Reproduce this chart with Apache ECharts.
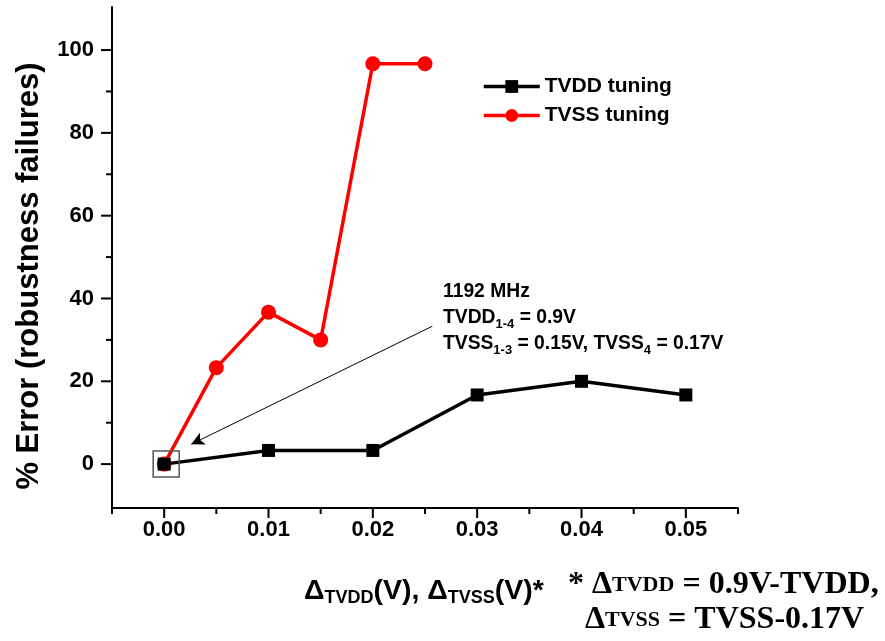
<!DOCTYPE html>
<html>
<head>
<meta charset="utf-8">
<script src="https://cdn.jsdelivr.net/npm/echarts@6/dist/echarts.min.js"></script>
<style>html,body{margin:0;padding:0;background:#fff;}#c{width:885px;height:641px;}</style>
</head>
<body>
<div id="c"></div>
<script>
// ---- data ----
const xTVDD = [0, 0.01, 0.02, 0.03, 0.04, 0.05];
const yTVDD = [0, 3.3, 3.3, 16.7, 20, 16.7];
const xTVSS = [0, 0.005, 0.01, 0.015, 0.02, 0.025];
const yTVSS = [0, 23.3, 36.7, 30, 96.7, 96.7];
const xTicks = [0, 0.01, 0.02, 0.03, 0.04, 0.05];
const xMinorTicks = [-0.005, 0.005, 0.015, 0.025, 0.035, 0.045, 0.055];
const yTicks = [0, 20, 40, 60, 80, 100];
const yMinorTicks = [10, 30, 50, 70, 90];
const seriesNames = ['TVDD tuning', 'TVSS tuning'];
const arrowFrom = [0.0257, 33.3];
const arrowTo = [0.0026, 4.8];

const chart = echarts.init(document.getElementById('c'), null, {renderer: 'canvas'});
const SANS = 'Arial, "Liberation Sans", Helvetica, sans-serif';
const SERIF = '"Times New Roman", "Liberation Serif", serif';

const xMin = -0.005, xMax = 0.055, yMin = -10.6, yMax = 110.4;
const MAJOR = 10, MINOR = 6;

// tick marks drawn through the axes' scales (api.coord)
const xTickData = xTicks.map(v => [v, yMin, MAJOR]).concat(xMinorTicks.map(v => [v, yMin, MINOR]));
const yTickData = yTicks.map(v => [xMin, v, MAJOR + 1]).concat(yMinorTicks.map(v => [xMin, v, MINOR]));

function tickSeries(data, dir) {
  return {
    type: 'custom', silent: true, clip: false, z: 5,
    data: data,
    renderItem: function (params, api) {
      const p = api.coord([api.value(0), api.value(1)]);
      const len = api.value(2);
      const shape = dir === 'x'
        ? {x1: p[0], y1: p[1], x2: p[0], y2: p[1] + len}
        : {x1: p[0], y1: p[1], x2: p[0] - len, y2: p[1]};
      return {type: 'line', shape: shape, style: {stroke: '#000', lineWidth: 2}};
    }
  };
}

const option = {
  animation: false,
  backgroundColor: '#fff',
  tooltip: {show: false},
  grid: {left: 112, right: 147, top: 7, bottom: 133, containLabel: false},
  legend: {
    data: seriesNames,
    orient: 'vertical',
    left: 477, top: 71, padding: 5,
    itemWidth: 56, itemHeight: 16, itemGap: 8,
    lineStyle: {width: 3.5},
    textStyle: {fontFamily: SANS, fontWeight: 'bold', fontSize: 21, color: '#000'}
  },
  xAxis: {
    type: 'value', min: xMin, max: xMax,
    axisLine: {show: true, onZero: false, lineStyle: {color: '#000', width: 2}},
    axisTick: {show: false},
    axisLabel: {show: true, customValues: xTicks, margin: 11, formatter: v => v.toFixed(2),
      fontFamily: SANS, fontWeight: 'bold', fontSize: 22, color: '#000'},
    splitLine: {show: false}
  },
  yAxis: {
    type: 'value', min: yMin, max: yMax,
    axisLine: {show: true, onZero: false, lineStyle: {color: '#000', width: 2}},
    axisTick: {show: false},
    axisLabel: {show: true, customValues: yTicks, margin: 18,
      fontFamily: SANS, fontWeight: 'bold', fontSize: 22, color: '#000'},
    splitLine: {show: false}
  },
  series: [{
    name: seriesNames[1], type: 'line',
    data: xTVSS.map((x, i) => [x, yTVSS[i]]),
    symbol: 'circle', symbolSize: 15,
    lineStyle: {color: '#ff0000', width: 3.5},
    itemStyle: {color: '#ff0000'},
    z: 2
  }, {
    name: seriesNames[0], type: 'line',
    data: xTVDD.map((x, i) => [x, yTVDD[i]]),
    symbol: 'rect', symbolSize: 13,
    lineStyle: {color: '#000', width: 3.5},
    itemStyle: {color: '#000'},
    z: 3,
    markPoint: {
      symbol: 'rect', symbolSize: 26, symbolOffset: [2, 0],
      silent: true,
      itemStyle: {color: 'rgba(0,0,0,0)', borderColor: '#555', borderWidth: 1.5},
      label: {show: false},
      data: [{coord: [xTVDD[0], yTVDD[0]]}]
    },
    markLine: {
      silent: true,
      symbol: ['none', 'arrow'], symbolSize: [10, 13],
      lineStyle: {color: '#000', width: 1, type: 'solid'},
      label: {show: false},
      data: [[{coord: arrowFrom}, {coord: arrowTo}]]
    }
  },
    tickSeries(xTickData, 'x'),
    tickSeries(yTickData, 'y')
  ],
  graphic: [
    {
      type: 'text', x: 29, y: 276, rotation: Math.PI / 2,
      style: {text: '% Error (robustness failures)', fontFamily: SANS, fontWeight: 'bold', fontSize: 31,
        fill: '#000', align: 'center', verticalAlign: 'middle'}
    },
    {
      type: 'text', x: 443, y: 279,
      style: {
        text: '1192 MHz\nTVDD{s|1-4} = 0.9V\nTVSS{s|1-3} = 0.15V, TVSS{s|4} = 0.17V',
        fontFamily: SANS, fontWeight: 'bold', fontSize: 19.3, fill: '#000',
        lineHeight: 26, align: 'left', verticalAlign: 'top',
        rich: {
          s: {fontFamily: SANS, fontWeight: 'bold', fontSize: 13, fill: '#000', verticalAlign: 'bottom', lineHeight: 12}
        }
      }
    },
    {
      type: 'text', x: 304, y: 591,
      style: {
        text: 'Δ{s|TVDD}(V), Δ{s|TVSS}(V)*',
        fontFamily: SANS, fontWeight: 'bold', fontSize: 28.5, fill: '#000',
        lineHeight: 33, align: 'left', verticalAlign: 'middle',
        rich: {
          s: {fontFamily: SANS, fontWeight: 'bold', fontSize: 18, fill: '#000', verticalAlign: 'bottom', lineHeight: 17}
        }
      }
    },
    {
      type: 'text', x: 568, y: 585,
      style: {
        text: '* Δ{s|TVDD} = 0.9V-TVDD,',
        fontFamily: SERIF, fontWeight: 'bold', fontSize: 32, fill: '#000',
        align: 'left', verticalAlign: 'middle',
        rich: {
          s: {fontFamily: SERIF, fontWeight: 'bold', fontSize: 22, fill: '#000'}
        }
      }
    },
    {
      type: 'text', x: 585, y: 620,
      style: {
        text: 'Δ{s|TVSS} = TVSS-0.17V',
        fontFamily: SERIF, fontWeight: 'bold', fontSize: 32, fill: '#000',
        align: 'left', verticalAlign: 'middle',
        rich: {
          s: {fontFamily: SERIF, fontWeight: 'bold', fontSize: 22, fill: '#000'}
        }
      }
    }
  ]
};
chart.setOption(option);
</script>
</body>
</html>
